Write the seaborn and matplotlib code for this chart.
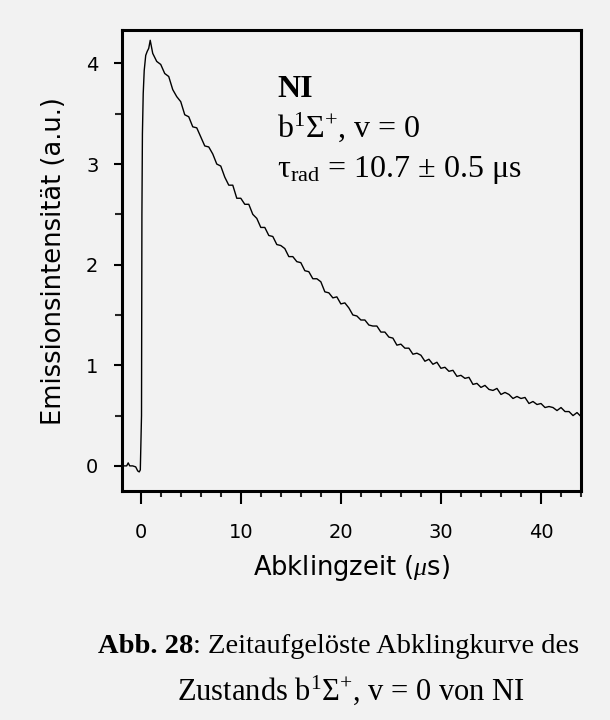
import numpy as np
import pandas as pd
import seaborn as sns
import matplotlib.pyplot as plt
from matplotlib.ticker import MultipleLocator

# Excitation pulse region: baseline, laser pulse onset and rise to the maximum
pulse_t = [-1.9, -1.6, -1.4, -1.25, -1.1, -0.8, -0.5, -0.3, -0.15, -0.04,
           0.08, 0.12, 0.17, 0.25, 0.35, 0.5, 0.65, 0.8, 0.95]
pulse_y = [0.00, 0.00, 0.00, 0.03, 0.00, 0.00, -0.01, -0.05, -0.06, -0.04,
           0.50, 2.50, 3.30, 3.70, 3.93, 4.08, 4.12, 4.15, 4.23]

# Decay after the pulse, sampled every 0.4 us from 1.2 us on
decay_step = 0.4
decay_y = [4.10, 4.02, 3.99, 3.90, 3.87, 3.74, 3.67, 3.62, 3.49, 3.47,
           3.37, 3.36, 3.27, 3.18, 3.17, 3.10, 3.00, 2.98, 2.87, 2.79,
           2.79, 2.66, 2.66, 2.60, 2.60, 2.50, 2.46, 2.37, 2.37, 2.29,
           2.28, 2.20, 2.19, 2.16, 2.08, 2.08, 2.03, 2.02, 1.94, 1.93,
           1.86, 1.86, 1.83, 1.73, 1.72, 1.67, 1.68, 1.61, 1.62, 1.57,
           1.50, 1.49, 1.45, 1.45, 1.40, 1.39, 1.39, 1.33, 1.33, 1.28,
           1.27, 1.20, 1.21, 1.17, 1.17, 1.11, 1.12, 1.10, 1.04, 1.06,
           1.01, 1.03, 0.97, 0.98, 0.94, 0.95, 0.89, 0.90, 0.87, 0.88,
           0.81, 0.82, 0.78, 0.80, 0.76, 0.75, 0.77, 0.71, 0.73, 0.71,
           0.67, 0.69, 0.67, 0.68, 0.62, 0.64, 0.61, 0.62, 0.58, 0.59,
           0.58, 0.55, 0.58, 0.54, 0.54, 0.50, 0.53, 0.49]
decay_t = np.round(1.2 + decay_step * np.arange(len(decay_y)), 2)

x_ticks = [0, 10, 20, 30, 40]
y_ticks = [0, 1, 2, 3, 4]

bg = "#f2f2f2"
sns.set_theme(style="ticks")
plt.rcParams["font.family"] = ["DejaVu Sans"]
plt.rcParams["text.color"] = "black"
plt.rcParams["axes.labelcolor"] = "black"
plt.rcParams["mathtext.fontset"] = "custom"
plt.rcParams["mathtext.rm"] = "Liberation Serif"
plt.rcParams["mathtext.it"] = "Liberation Serif:italic"
plt.rcParams["mathtext.bf"] = "Liberation Serif:bold"

fig = plt.figure(figsize=(6.1, 7.2), dpi=100, facecolor=bg)
ax = fig.add_axes([0.2, 0.318, 0.7525, 0.64])
ax.set_facecolor(bg)

trace = pd.DataFrame({"t": np.concatenate([pulse_t, decay_t]),
                      "I": np.concatenate([pulse_y, decay_y])})
sns.lineplot(data=trace, x="t", y="I", ax=ax, color="black", lw=1.0,
             estimator=None, sort=False)

ax.set_xlim(-1.87, 44.0)
ax.set_ylim(-0.25, 4.33)
ax.set_xticks(x_ticks)
ax.set_yticks(y_ticks)
ax.xaxis.set_minor_locator(MultipleLocator(2))
ax.yaxis.set_minor_locator(MultipleLocator(0.5))

for s in ax.spines.values():
    s.set_visible(True)
    s.set_linewidth(2.2)
    s.set_color("black")

ax.tick_params(axis="x", which="major", length=9, width=1.5, pad=14,
               labelsize=14, colors="black", direction="out")
ax.tick_params(axis="x", which="minor", length=4, width=1.5, direction="out")
ax.tick_params(axis="y", which="major", length=6, width=1.5, pad=11,
               labelsize=14, colors="black", direction="out")
ax.tick_params(axis="y", which="minor", length=5, width=1.5, direction="out")

ax.set_xlabel(r"Abklingzeit ($\mu$s)", fontsize=18.5, labelpad=8)
ax.set_ylabel("Emissionsintensität (a.u.)", fontsize=18.5, labelpad=14)

serif = "Liberation Serif"
ax.text(0.338, 0.855, "NI", transform=ax.transAxes, fontsize=23,
        fontweight="bold", family=serif)
ax.text(0.338, 0.768, r"b$^{1}$Σ$^{+}$, v = 0", transform=ax.transAxes,
        fontsize=23, family=serif)
ax.text(0.338, 0.681, r"τ$_{\mathrm{rad}}$ = 10.7 ± 0.5 μs",
        transform=ax.transAxes, fontsize=23, family=serif)

# Figure caption: bold label followed by the regular text
cap_y1 = 1 - 653 / 720
cap_bold = fig.text(98 / 610, cap_y1, "Abb. 28", fontsize=20.5,
                    fontweight="bold", family=serif, ha="left", va="baseline")
fig.canvas.draw()
bb = cap_bold.get_window_extent(renderer=fig.canvas.get_renderer())
fig.text(bb.x1 / fig.bbox.width, cap_y1,
         ": Zeitaufgelöste Abklingkurve des",
         fontsize=20.5, family=serif, ha="left", va="baseline")
fig.text(177 / 610, 1 - 700 / 720, r"Zustands b$^{1}$Σ$^{+}$, v = 0 von NI",
         fontsize=22, family=serif, ha="left", va="baseline")

fig.savefig("out.png", dpi=100, facecolor=bg)
